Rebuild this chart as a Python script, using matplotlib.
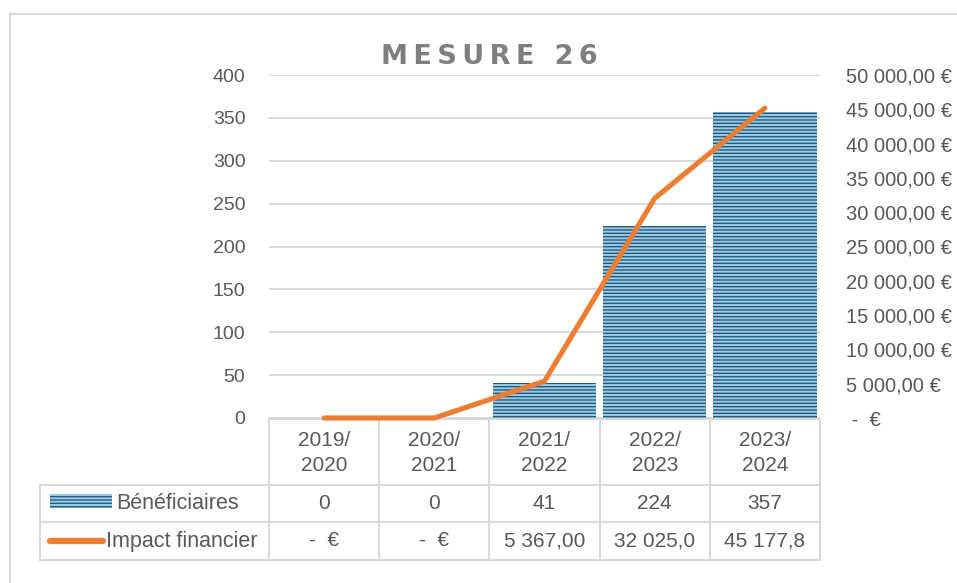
import numpy as np
import matplotlib
matplotlib.use('Agg')
import matplotlib.pyplot as plt
from matplotlib.patches import Rectangle
from matplotlib.lines import Line2D

# =============================================================================
# Data
# =============================================================================
years = ['2019/\n2020', '2020/\n2021', '2021/\n2022', '2022/\n2023', '2023/\n2024']
beneficiaires = [0, 0, 41, 224, 357]
impact = [0, 0, 5367.00, 32025.0, 45177.8]
impact_labels = ['-  €', '-  €', '5 367,00', '32 025,0', '45 177,8']
title = 'MESURE 26'

W, H = 957, 583
grey_txt = '#595959'
grid_col = '#d9d9d9'
orange = '#ed7d31'
bar_face = '#215b82'
bar_hatch = '#9ccbe3'

plt.rcParams['font.family'] = ['Liberation Sans', 'DejaVu Sans']
plt.rcParams['hatch.linewidth'] = 1.4


def fx(px):
    return px / W


def fy(py):
    return 1 - py / H


fig = plt.figure(figsize=(W / 100, H / 100), dpi=100)

# outer frame (runs off the right and bottom edges)
fig.add_artist(Rectangle((fx(10), -0.2), 2, fy(14) + 0.2, transform=fig.transFigure,
                         fill=False, edgecolor=grid_col, lw=1.5, zorder=-5))

ax_l, ax_r, ax_t, ax_b = 269, 820, 75, 418
ax = fig.add_axes([fx(ax_l), fy(ax_b), (ax_r - ax_l) / W, (ax_b - ax_t) / H])
ax.patch.set_visible(False)
x = np.arange(len(years))
ax.bar(x, beneficiaires, width=0.94, color=bar_face, edgecolor=bar_hatch,
       linewidth=0, hatch='-----', zorder=2)
ax.set_xlim(-0.5, len(years) - 0.5)
ax.set_ylim(0, 400)
ax.set_yticks(np.arange(0, 401, 50))
ax.yaxis.grid(True, color=grid_col, lw=1.4, zorder=0)
ax.set_axisbelow(True)
ax.set_xticks([])
ax.tick_params(axis='y', length=0, pad=17, labelsize=14, labelcolor=grey_txt)
for s in ax.spines.values():
    s.set_visible(False)

ax2 = ax.twinx()
ax2.patch.set_visible(False)
ax2.plot(x, impact, color=orange, lw=3.7, solid_capstyle='round',
         solid_joinstyle='round', clip_on=False, zorder=3)
ax2.set_ylim(0, 50000)
rticks = np.arange(0, 50001, 5000)
ax2.set_yticks(rticks)
rlabels = []
for v in rticks:
    if v == 0:
        rlabels.append(' -  €')
    else:
        rlabels.append(f'{v:,.2f}'.replace(',', ' ').replace('.', ',') + ' €')
ax2.set_yticklabels(rlabels)
ax2.tick_params(axis='y', length=0, pad=19, labelsize=14.5, labelcolor=grey_txt)
for s in ax2.spines.values():
    s.set_visible(False)

fig.text(fx(489), fy(57), '\u2009'.join(title), ha='center', va='center',
         fontsize=19.5, fontweight='bold', color='#7f7f7f', family='DejaVu Sans')

# =============================================================================
# Data table under the chart
# =============================================================================
col_w = (ax_r - ax_l) / len(years)
rows = [419, 485, 522, 560]
lab_l = 40
tab_lw = 1.5


def hline(x0, x1, y):
    fig.add_artist(Line2D([fx(x0), fx(x1)], [fy(y), fy(y)], color=grid_col,
                          lw=tab_lw, zorder=-1))


def vline(xp, y0, y1):
    fig.add_artist(Line2D([fx(xp), fx(xp)], [fy(y0), fy(y1)], color=grid_col,
                          lw=tab_lw, zorder=-1))


hline(ax_l, ax_r, rows[0])
for r in rows[1:]:
    hline(lab_l, ax_r, r)
vline(lab_l, rows[1], rows[3])
for i in range(len(years) + 1):
    vline(ax_l + i * col_w, rows[0], rows[3])

for i, yr in enumerate(years):
    cx = fx(ax_l + (i + 0.5) * col_w)
    fig.text(cx, fy((rows[0] + rows[1]) / 2 + 1), yr, ha='center', va='center',
             fontsize=15, color=grey_txt, linespacing=1.35)
    fig.text(cx, fy((rows[1] + rows[2]) / 2), str(beneficiaires[i]), ha='center',
             va='center', fontsize=15, color=grey_txt)
    fig.text(cx, fy((rows[2] + rows[3]) / 2), impact_labels[i], ha='center',
             va='center', fontsize=15, color=grey_txt)

# legend keys in the row labels
fig.add_artist(Rectangle((fx(50), fy(508)), fx(112) - fx(50), fy(494) - fy(508),
                         transform=fig.transFigure, facecolor=bar_face,
                         edgecolor=bar_hatch, lw=0, hatch='-----'))
fig.add_artist(Line2D([fx(50), fx(103)], [fy(541), fy(541)], color=orange, lw=4.5,
                      solid_capstyle='round'))
fig.text(fx(116), fy(503.5), 'Bénéficiaires', ha='left', va='center',
         fontsize=15.5, color=grey_txt)
fig.text(fx(106), fy(541), 'Impact financier', ha='left', va='center',
         fontsize=15.5, color=grey_txt)

plt.savefig('out.png', dpi=100)
